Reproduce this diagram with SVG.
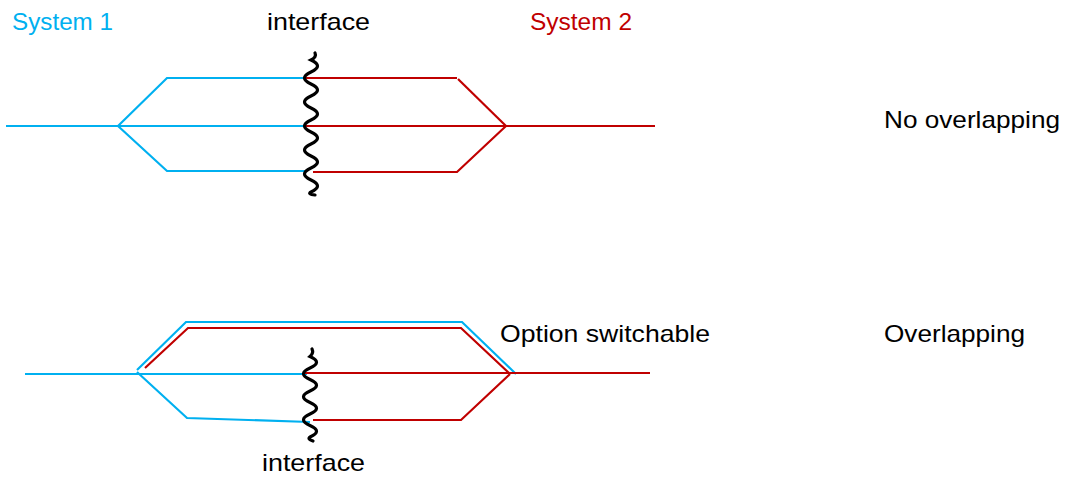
<svg xmlns="http://www.w3.org/2000/svg" width="1067" height="483" viewBox="0 0 1067 483">
<style>
.b{fill:none;stroke:#00B0F0;stroke-width:2.2;stroke-linejoin:miter}
.r{fill:none;stroke:#C00000;stroke-width:2.2;stroke-linejoin:miter}
.w{fill:none;stroke:#000;stroke-width:3.2;stroke-linecap:round}
text{font-family:"Liberation Sans",Arial,sans-serif;font-size:24px;fill:#000}
</style>
<rect width="1067" height="483" fill="#fff"/>
<g id="connectors">
<g id="top-system1">
<polyline class="b" points="6,126 305,126"/>
<polyline class="b" points="118,126 167,78 305,78"/>
<polyline class="b" points="118,126 167,171 305,171"/>
</g>
<g id="top-system2">
<polyline class="r" points="305,78 457,78"/>
<polyline class="r" points="458,79 506,126"/>
<polyline class="r" points="305,126 655,126"/>
<polyline class="r" points="313,172 457,172 506,126"/>
</g>
<g id="bottom-system1">
<polyline class="b" points="25,374 307,374"/>
<polyline class="b" points="137,370 186,322 462,322 516,374"/>
<polyline class="b" points="137,372 187,418 310,422"/>
</g>
<g id="bottom-system2">
<polyline class="r" points="145,368 188,328 461,328 510,374"/>
<polyline class="r" points="305,373 650,373"/>
<polyline class="r" points="313,420 461,420 510,374"/>
</g>
</g>
<g id="interface-top">
<path class="w" d="M315,53 Q317,57 311,60 q13,6 0,12 t0,12 t0,12 t0,12 t0,12 t0,12 t0,12 t0,12 t0,12 t0,12 t0,12 q-4,2 4,3"/>
</g>
<g id="interface-bottom">
<path class="w" d="M312,349 Q314,353 310,356.5 q13,5.75 0,11.5 t0,11.5 t0,11.5 t0,11.5 t0,11.5 t0,11.5 t0,11.5 q-3,2 3,4"/>
</g>
<g id="labels">
<text x="12" y="30" style="fill:#00B0F0" textLength="101" lengthAdjust="spacingAndGlyphs">System 1</text>
<text x="267" y="30" textLength="103" lengthAdjust="spacingAndGlyphs">interface</text>
<text x="530" y="30" style="fill:#C00000" textLength="102" lengthAdjust="spacingAndGlyphs">System 2</text>
<text x="884" y="128" textLength="176" lengthAdjust="spacingAndGlyphs">No overlapping</text>
<text x="500" y="342" textLength="210" lengthAdjust="spacingAndGlyphs">Option switchable</text>
<text x="884" y="342" textLength="141" lengthAdjust="spacingAndGlyphs">Overlapping</text>
<text x="262" y="471" textLength="103" lengthAdjust="spacingAndGlyphs">interface</text>
</g>
</svg>
